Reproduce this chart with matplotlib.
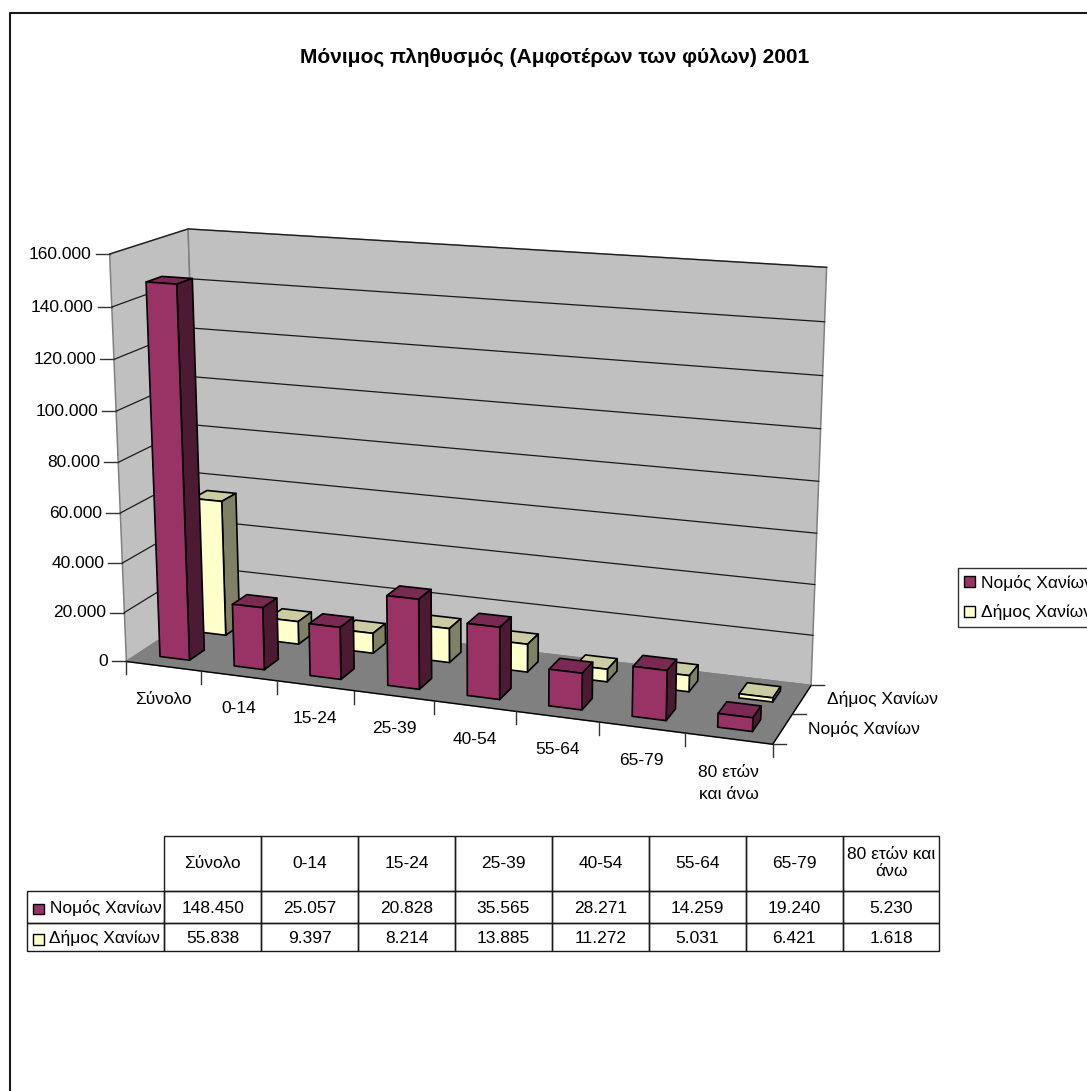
import numpy as np
import matplotlib
matplotlib.use("Agg")
import matplotlib.pyplot as plt
from matplotlib.patches import Polygon, Patch

plt.rcParams['font.family'] = ['Liberation Sans', 'DejaVu Sans']

title = "Μόνιμος πληθυσμός (Αμφοτέρων των φύλων) 2001"
categories = ["Σύνολο", "0-14", "15-24", "25-39", "40-54", "55-64", "65-79", "80 ετών\nκαι άνω"]
table_categories = ["Σύνολο", "0-14", "15-24", "25-39", "40-54", "55-64", "65-79", "80 ετών και\nάνω"]
series_names = ["Νομός Χανίων", "Δήμος Χανίων"]
nomos = [148450, 25057, 20828, 35565, 28271, 14259, 19240, 5230]
dimos = [55838, 9397, 8214, 13885, 11272, 5031, 6421, 1618]
y_ticks = [0, 20000, 40000, 60000, 80000, 100000, 120000, 140000, 160000]
y_max = 160000

colors = ['#993366', '#FFFFCC']
top_colors = ['#7A2952', '#CCCCA3']
side_colors = ['#4D1A33', '#808066']
font_size = 12.5


def fmt(v):
    return f"{v:,}".replace(",", ".")


# Corners of the plot box in the picture: (across, depth, height) -> pixel
box = [((0, 0, 0), (126, 661.7)), ((1, 0, 0), (772.7, 744)), ((0, 1, 0), (201, 612.5)),
       ((1, 1, 0), (811, 685.7)), ((0, 0, 1), (110, 254)), ((0, 1, 1), (187.7, 229)),
       ((1, 1, 1), (826.7, 267.3))]

# Fit the perspective of the chart box
A = []
b = []
for (X, Y, Z), (u, v) in box:
    A.append([X, Y, Z, 1, 0, 0, 0, 0, -u*X, -u*Y, -u*Z])
    A.append([0, 0, 0, 0, X, Y, Z, 1, -v*X, -v*Y, -v*Z])
    b.extend([u, v])
P = np.linalg.lstsq(np.array(A, float), np.array(b, float), rcond=None)[0]
P = np.append(P, 1).reshape(3, 4)


def project(x, y, z):
    w = P @ np.array([x, y, z, 1.0])
    return w[0] / w[2], w[1] / w[2]


def face(ax, corners, fc, ec, lw, z):
    ax.add_patch(Polygon([project(*c) for c in corners], closed=True, facecolor=fc, edgecolor=ec,
                         linewidth=lw, zorder=z, joinstyle='round'))


fig = plt.figure(figsize=(10.87, 10.91), dpi=100)
ax = fig.add_axes([0, 0, 1, 1])
ax.set_xlim(0, 1087)
ax.set_ylim(1091, 0)
ax.axis('off')

# Chart border, runs off the right and bottom of the picture
ax.plot([10, 10, 1087], [1091, 13, 13], color='#1a1a1a', lw=1.5, zorder=1)

ax.text(554.5, 57, title, ha='center', va='center', fontsize=15, fontweight='bold')

# Walls and floor
wall_edge = '#808080'
face(ax, [(0, 0, 0), (0, 1, 0), (0, 1, 1), (0, 0, 1)], '#C0C0C0', wall_edge, 1.1, 2)
face(ax, [(0, 1, 0), (1, 1, 0), (1, 1, 1), (0, 1, 1)], '#C0C0C0', wall_edge, 1.1, 2)
face(ax, [(0, 0, 0), (1, 0, 0), (1, 1, 0), (0, 1, 0)], '#808080', wall_edge, 1.1, 2)

# Gridlines and value axis
for t in y_ticks:
    z = t / y_max
    if t > 0:
        pts = np.array([project(0, 0, z), project(0, 1, z), project(1, 1, z)])
        ax.plot(pts[:, 0], pts[:, 1], color='#1a1a1a', lw=0.9, zorder=3)
    x0, y0 = project(0, 0, z)
    ax.plot([x0 - 14, x0], [y0, y0], color='#333333', lw=1, zorder=3)
    ax.text(x0 - 18, y0, fmt(t), ha='right', va='center', fontsize=font_size)

# Front and right floor edges
for a, c in [((0, 0, 0), (1, 0, 0)), ((1, 0, 0), (1, 1, 0))]:
    pts = np.array([project(*a), project(*c)])
    ax.plot(pts[:, 0], pts[:, 1], color='black', lw=1, zorder=3)

# Category ticks and labels
n = len(categories)
for i in range(n + 1):
    x0, y0 = project(i / n, 0, 0)
    ax.plot([x0, x0], [y0, y0 + 13], color='#333333', lw=1, zorder=3)
for i, c in enumerate(categories):
    x0, y0 = project((i + 0.5) / n, 0, 0)
    ax.text(x0, y0 + (33 if i < n - 1 else 45), c, ha='center', va='center', fontsize=font_size,
            linespacing=1.6)

# Depth ticks and labels
for d in [0, 0.5, 1]:
    x0, y0 = project(1, d, 0)
    ax.plot([x0, x0 + 13], [y0, y0], color='#333333', lw=1, zorder=3)
for d, name in zip([0.25, 0.75], series_names):
    x0, y0 = project(1, d, 0)
    ax.text(x0 + 25, y0, name, ha='left', va='center', fontsize=font_size)

# Bars: back row first, then front row
for s, values in reversed(list(enumerate([nomos, dimos]))):
    y0 = s * 0.5 + 0.15
    y1 = s * 0.5 + 0.35
    for i, v in enumerate(values):
        x0 = (i + 0.3) / n
        x1 = (i + 0.7) / n
        h = v / y_max
        zo = 5 + (1 - s) * 10 + i
        face(ax, [(x0, y0, h), (x1, y0, h), (x1, y1, h), (x0, y1, h)], top_colors[s], 'black', 1.2, zo)
        face(ax, [(x1, y0, 0), (x1, y1, 0), (x1, y1, h), (x1, y0, h)], side_colors[s], 'black', 1.2, zo)
        face(ax, [(x0, y0, 0), (x1, y0, 0), (x1, y0, h), (x0, y0, h)], colors[s], 'black', 1.2, zo)

# Legend, cut off by the right edge as in the original
handles = [Patch(facecolor=c, edgecolor='black', linewidth=1) for c in colors]
ax.legend(handles, series_names, loc='upper left', bbox_to_anchor=(957.7, 568.3),
          bbox_transform=ax.transData, fontsize=font_size, frameon=True, fancybox=False, framealpha=1,
          edgecolor='#333333', borderpad=0.36, labelspacing=0.8, handlelength=0.62, handleheight=0.62,
          handletextpad=0.36, borderaxespad=0)

# Data table
col_widths = [137.6] + [96.9] * n
row_heights = [55, 32, 28.3]
total_w = sum(col_widths)
total_h = sum(row_heights)
cells = [[""] + table_categories,
         [" " + series_names[0]] + [fmt(v) for v in nomos],
         [" " + series_names[1]] + [fmt(v) for v in dimos]]
tbl = ax.table(cellText=cells, colWidths=[w / total_w for w in col_widths], cellLoc='center',
               bbox=[26.7 / 1087, 1 - 951 / 1091, total_w / 1087, total_h / 1091], zorder=4)
tbl.auto_set_font_size(False)
tbl.set_fontsize(font_size)
for (r, c), cell in tbl.get_celld().items():
    cell.set_height(row_heights[r] / total_h)
    cell.set_linewidth(1)
    cell.set_edgecolor('#1a1a1a')
    cell.set_facecolor('none')
    if r > 0:
        cell.get_text().set_va('center_baseline')
    if c == 0:
        cell.PAD = 0.13
        cell.get_text().set_ha('left')
tbl[(0, 0)].visible_edges = ''

# Legend keys in the table
key_y = [908.8, 939.7]
for y, col in zip(key_y, colors):
    ax.add_patch(Polygon([(33, y - 5.3), (43.5, y - 5.3), (43.5, y + 5.3), (33, y + 5.3)], closed=True,
                         facecolor=col, edgecolor='black', linewidth=1, zorder=6))

fig.savefig("out.png", dpi=100)
